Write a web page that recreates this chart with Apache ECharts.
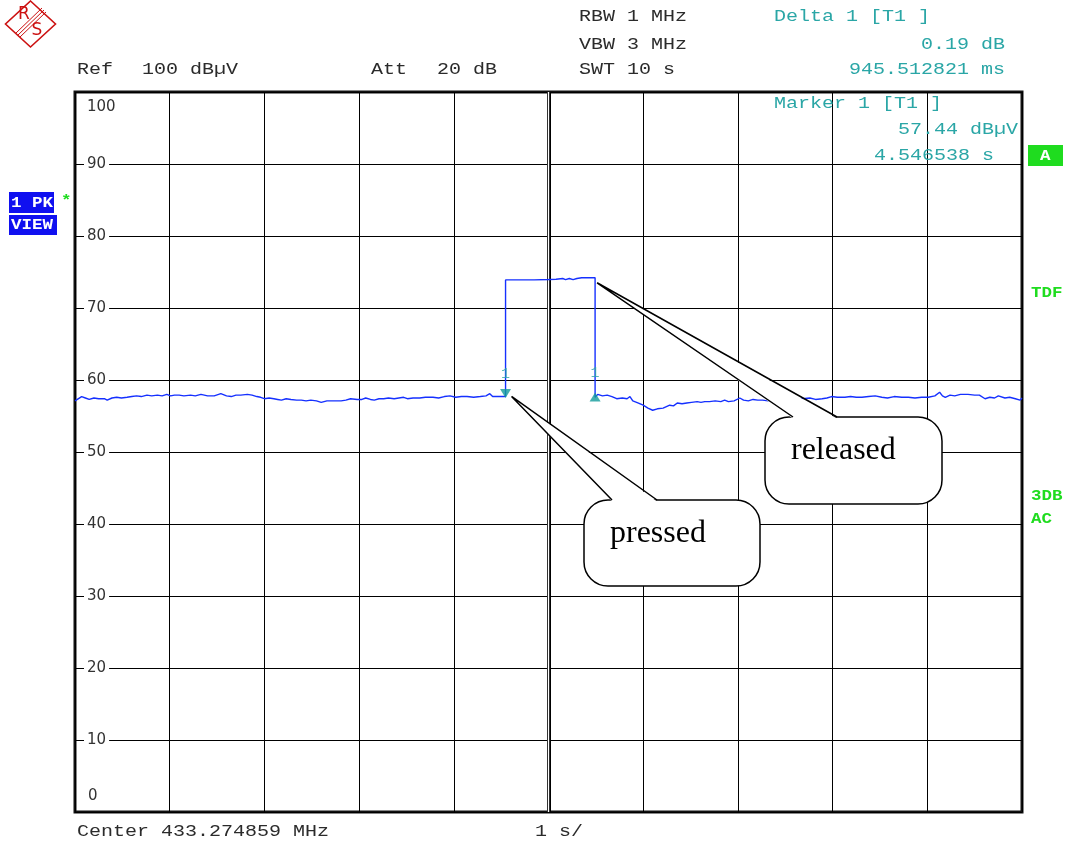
<!DOCTYPE html>
<html>
<head>
<meta charset="utf-8">
<script src="https://cdn.jsdelivr.net/npm/echarts@6/dist/echarts.min.js"></script>
<style>
  html, body { margin: 0; padding: 0; background: #fff; }
  #chart { width: 1066px; height: 845px; }
</style>
</head>
<body>
<div id="chart"></div>
<script>
// trace: time in s, level in dBµV
const traceTime = [
  0.00, 0.02, 0.07, 0.11, 0.15, 0.20, 0.25, 0.31, 0.34, 0.39, 0.44, 0.49, 0.55, 0.60, 0.65, 0.70,
  0.76, 0.81, 0.87, 0.92, 0.97, 1.01, 1.05, 1.10, 1.15, 1.22, 1.27, 1.33, 1.40, 1.47, 1.54, 1.60,
  1.65, 1.70, 1.75, 1.82, 1.87, 1.92, 1.96, 2.00, 2.05, 2.10, 2.14, 2.18, 2.23, 2.28, 2.34, 2.39,
  2.44, 2.49, 2.55, 2.60, 2.66, 2.73, 2.81, 2.86, 2.91, 2.98, 3.03, 3.07, 3.12, 3.16, 3.21, 3.26,
  3.31, 3.37, 3.42, 3.47, 3.51, 3.57, 3.64, 3.70, 3.78, 3.84, 3.90, 3.96, 4.02, 4.08, 4.14, 4.21,
  4.28, 4.34, 4.38, 4.41, 4.47, 4.5465,
  4.5465, 4.70, 4.80, 4.82, 4.85, 5.00, 5.08, 5.15, 5.18, 5.22, 5.26, 5.30, 5.35, 5.492,
  5.492, 5.52, 5.57, 5.62, 5.67, 5.72, 5.78, 5.83, 5.86, 5.89, 5.95, 6.00, 6.05, 6.10, 6.15, 6.21,
  6.28, 6.32, 6.36, 6.41, 6.46, 6.51, 6.57, 6.61, 6.65, 6.70, 6.76, 6.82, 6.86, 6.90, 6.96, 7.02,
  7.06, 7.11, 7.16, 7.21, 7.26, 7.32, 7.38, 7.44, 7.52, 7.60, 7.68, 7.76, 7.82, 7.89, 7.94, 7.99,
  8.05, 8.13, 8.19, 8.25, 8.31, 8.38, 8.45, 8.52, 8.58, 8.65, 8.73, 8.80, 8.87, 8.94, 9.01, 9.08,
  9.13, 9.16, 9.19, 9.24, 9.29, 9.35, 9.43, 9.50, 9.55, 9.61, 9.66, 9.71, 9.75, 9.82, 9.87, 9.93,
  9.98, 10.00
];
const traceLevel = [
  57.1, 57.2, 57.7, 57.5, 57.3, 57.5, 57.4, 57.4, 57.2, 57.5, 57.6, 57.5, 57.6, 57.7, 57.8, 57.7,
  57.9, 57.8, 57.9, 57.8, 58.0, 57.8, 57.9, 57.9, 57.8, 57.9, 57.8, 58.0, 57.8, 57.8, 58.1, 57.8,
  57.7, 57.9, 57.9, 58.0, 57.9, 57.7, 57.6, 57.4, 57.5, 57.4, 57.3, 57.2, 57.4, 57.3, 57.2, 57.2,
  57.1, 57.2, 57.1, 56.9, 57.1, 57.1, 57.1, 57.2, 57.4, 57.3, 57.3, 57.5, 57.3, 57.2, 57.4, 57.4,
  57.5, 57.4, 57.5, 57.6, 57.4, 57.5, 57.5, 57.6, 57.6, 57.5, 57.7, 57.8, 57.6, 57.7, 57.7, 57.6,
  57.7, 57.8, 58.1, 57.7, 57.7, 57.7,
  73.9, 73.9, 73.9, 74.05, 73.9, 73.95, 74.0, 74.1, 73.95, 74.1, 73.95, 74.1, 74.2, 74.2,
  57.6, 58.0, 57.8, 57.9, 57.7, 57.4, 57.5, 57.4, 57.7, 57.1, 56.8, 56.5, 56.1, 55.8, 56.0, 56.1,
  56.5, 56.4, 56.8, 56.7, 56.8, 56.9, 57.0, 56.9, 57.0, 57.0, 57.1, 57.0, 57.2, 57.0, 57.1, 57.5,
  57.2, 57.1, 57.3, 57.2, 57.2, 57.1, 57.3, 57.2, 57.3, 57.3, 57.4, 57.5, 57.3, 57.4, 57.5, 57.7,
  57.6, 57.6, 57.7, 57.6, 57.6, 57.7, 57.8, 57.6, 57.5, 57.7, 57.6, 57.6, 57.5, 57.6, 57.6, 57.8,
  58.3, 57.8, 57.6, 57.9, 57.8, 58.0, 58.0, 57.9, 57.9, 57.4, 57.6, 57.5, 57.8, 57.5, 57.6, 57.4,
  57.2, 57.5
];

// marker readout
const markerTime = 4.546538;   // s
const markerLevel = 57.44;     // dBµV
const deltaTime = 0.945512821; // s
const deltaLevel = 0.19;       // dB

const settingsText = ['RBW 1 MHz', 'VBW 3 MHz', 'SWT 10 s'];
const refText = ['Ref', '100 dBµV'];
const attText = ['Att', '20 dB'];
const footerText = ['Center 433.274859 MHz', '1 s/'];
const calloutText = ['pressed', 'released'];

const teal = '#2aa6a6';
const ink = '#2b2b2b';
const green = '#1fdc1f';
const blue = '#1010f0';

const chart = echarts.init(document.getElementById('chart'));

const trace = traceTime.map((t, i) => [t, traceLevel[i]]);

chart.setOption({
  animation: false,
  backgroundColor: '#fff',
  grid: {
    left: 75, top: 92, width: 947, height: 720,
    show: true, borderColor: '#111', borderWidth: 3
  },
  xAxis: {
    type: 'value', min: 0, max: 10, interval: 1,
    axisLine: { show: false }, axisTick: { show: false }, axisLabel: { show: false },
    splitLine: { lineStyle: { color: '#000', width: 1 } }
  },
  yAxis: {
    type: 'value', min: 0, max: 100, interval: 10,
    axisLine: { show: false }, axisTick: { show: false },
    splitLine: { lineStyle: { color: '#000', width: 1 } },
    axisLabel: {
      inside: true, margin: 9, color: '#333',
      fontFamily: 'DejaVu Sans', fontSize: 15,
      backgroundColor: '#fff', padding: [1, 3, 1, 3],
      showMinLabel: false, showMaxLabel: false
    }
  },
  series: [
    {
      // double centre line of the screen grid, kept under the trace
      type: 'line', z: 1, data: [],
      markLine: {
        z: 1, silent: true, symbol: 'none', label: { show: false },
        data: [
          { xAxis: 5, lineStyle: { color: '#000', width: 4, type: 'solid' } },
          { xAxis: 5, lineStyle: { color: '#fff', width: 1.4, type: 'solid' } }
        ]
      }
    },
    {
      type: 'line', z: 3, data: trace, showSymbol: false,
      lineStyle: { color: '#1530ff', width: 1.4 }
    },
    {
      type: 'scatter', z: 4,
      data: [[markerTime, markerLevel]],
      symbol: 'triangle', symbolRotate: 180, symbolSize: [11, 9], symbolOffset: [0, -5],
      itemStyle: { color: '#119b9b' },
      label: {
        show: true, formatter: '1', position: 'top', distance: 7,
        color: teal, fontFamily: 'Liberation Mono', fontSize: 15
      }
    },
    {
      type: 'scatter', z: 4,
      data: [[markerTime + deltaTime, markerLevel + deltaLevel]],
      symbol: 'triangle', symbolSize: [11, 9],
      itemStyle: { color: '#119b9b' },
      label: {
        show: true, formatter: '1', position: 'top', distance: 12,
        color: teal, fontFamily: 'Liberation Mono', fontSize: 15
      }
    }
  ]
});

// stretched monospace text like the analyzer font
function mono(text, x, y, color, align, bold, size) {
  return {
    type: 'text', x: x, y: y, scaleX: 1.25, z: 100,
    style: {
      text: text, fill: color, fontFamily: 'Liberation Mono', fontSize: size || 16,
      fontWeight: bold ? 'bold' : 'normal',
      align: align || 'left', verticalAlign: 'middle'
    }
  };
}

function callout(tip, box, baseL, baseR, text) {
  const [bx, by, bw, bh] = box;
  return [
    {
      type: 'rect', z: 100,
      shape: { x: bx, y: by, width: bw, height: bh, r: 24 },
      style: { fill: '#fff', stroke: '#000', lineWidth: 1.5 }
    },
    {
      type: 'polygon', z: 101,
      shape: { points: [tip, [baseL, by + 1.5], [baseR, by + 1.5]] },
      style: { fill: '#fff', stroke: null }
    },
    {
      type: 'polyline', z: 102,
      shape: { points: [[baseL, by], tip, [baseR, by]] },
      style: { fill: null, stroke: '#000', lineWidth: 1.5 }
    },
    {
      type: 'text', z: 103, x: bx + 26, y: by + 34,
      style: {
        text: text, fill: '#000', fontFamily: 'Liberation Serif', fontSize: 32,
        align: 'left', verticalAlign: 'middle'
      }
    }
  ];
}

const pMark = chart.convertToPixel({ gridIndex: 0 }, [markerTime, markerLevel]);
const pRel = chart.convertToPixel({ gridIndex: 0 }, [markerTime + deltaTime, Math.max(...traceLevel)]);
const y100 = chart.convertToPixel({ yAxisIndex: 0 }, 100);
const y0 = chart.convertToPixel({ yAxisIndex: 0 }, 0);

const logoRed = '#cc1111';
const graphic = [
  // R&S logo
  {
    type: 'polygon', z: 100,
    shape: { points: [[30.5, 1], [55.5, 24], [30.5, 47], [5.5, 24]] },
    style: { fill: null, stroke: logoRed, lineWidth: 1.6 }
  },
  { type: 'line', z: 100, shape: { x1: 16, y1: 33, x2: 42, y2: 8 }, style: { stroke: logoRed, lineWidth: 1 } },
  { type: 'line', z: 100, shape: { x1: 18, y1: 35, x2: 44, y2: 10 }, style: { stroke: logoRed, lineWidth: 1 } },
  { type: 'line', z: 100, shape: { x1: 20, y1: 37, x2: 46, y2: 12 }, style: { stroke: logoRed, lineWidth: 1 } },
  { type: 'text', z: 100, x: 24, y: 15, style: { text: 'R', fill: logoRed, fontFamily: 'DejaVu Sans', fontSize: 17, align: 'center', verticalAlign: 'middle' } },
  { type: 'text', z: 100, x: 37, y: 31, style: { text: 'S', fill: logoRed, fontFamily: 'DejaVu Sans', fontSize: 17, align: 'center', verticalAlign: 'middle' } },

  // top and end tick labels sit inside the grid
  { type: 'text', z: 100, x: 87, y: y100 + 15, style: { text: '100', fill: '#333', fontFamily: 'DejaVu Sans', fontSize: 15, align: 'left', verticalAlign: 'middle' } },
  { type: 'text', z: 100, x: 88, y: y0 - 16, style: { text: '0', fill: '#333', fontFamily: 'DejaVu Sans', fontSize: 15, align: 'left', verticalAlign: 'middle' } },

  // header
  mono(settingsText[0], 579, 17, ink),
  mono(settingsText[1], 579, 45, ink),
  mono(settingsText[2], 579, 70, ink),
  mono(refText[0], 77, 70, ink),
  mono(refText[1], 142, 70, ink),
  mono(attText[0], 371, 70, ink),
  mono(attText[1], 437, 70, ink),
  mono('Delta 1 [T1 ]', 774, 17, teal),
  mono(deltaLevel.toFixed(2) + ' dB', 1005, 45, teal, 'right'),
  mono((deltaTime * 1000).toFixed(6) + ' ms', 1005, 70, teal, 'right'),
  mono('Marker 1 [T1 ]', 774, 104, teal),
  mono(markerLevel.toFixed(2) + ' dBµV', 1018, 130, teal, 'right'),
  mono(markerTime.toFixed(6) + ' s', 994, 156, teal, 'right'),

  // footer
  mono(footerText[0], 77, 832, ink),
  mono(footerText[1], 535, 832, ink),

  // left side trace info
  { type: 'rect', z: 100, shape: { x: 9, y: 192, width: 45, height: 21 }, style: { fill: blue } },
  mono('1 PK', 11, 203, '#fff', 'left', true, 14),
  { type: 'rect', z: 100, shape: { x: 9, y: 215, width: 48, height: 20 }, style: { fill: blue } },
  mono('VIEW', 11, 225, '#fff', 'left', true, 14),
  mono('*', 61, 201, green, 'left', true, 14),

  // right side status
  { type: 'rect', z: 100, shape: { x: 1028, y: 145, width: 35, height: 21 }, style: { fill: green } },
  mono('A', 1040, 156, '#fff', 'left', true, 14),
  mono('TDF', 1031, 293, green, 'left', true, 14),
  mono('3DB', 1031, 496, green, 'left', true, 14),
  mono('AC', 1031, 519, green, 'left', true, 14)
].concat(
  callout([pMark[0] + 6, pMark[1] - 2], [584, 500, 176, 86], 612, 657, calloutText[0]),
  callout([pRel[0] + 2, pRel[1] + 5], [765, 417, 177, 87], 793, 837, calloutText[1])
);

chart.setOption({ graphic: graphic });
</script>
</body>
</html>
